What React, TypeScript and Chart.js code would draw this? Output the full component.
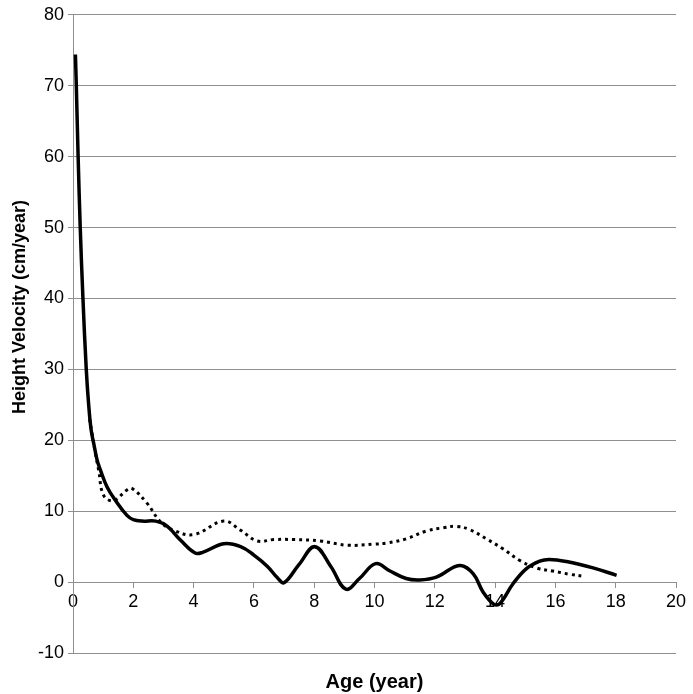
import React, { useEffect, useRef } from "react";
import { Chart, registerables } from "chart.js";

Chart.register(...registerables);

const X_TITLE = "Age (year)";
const Y_TITLE = "Height Velocity (cm/year)";

const X_MIN = 0;
const X_MAX = 20;
const X_STEP = 2;
const Y_MIN = -10;
const Y_MAX = 80;
const Y_STEP = 10;

// Solid curve
const solidAge = [
  0.08, 0.11, 0.17, 0.24, 0.33, 0.44, 0.52, 0.6, 0.69, 0.8, 0.91, 1.13, 1.41, 1.79, 2.0, 2.3, 2.75,
  3.12, 3.57, 4.05, 4.3, 5.0, 5.56, 6.0, 6.45, 6.78, 7.0, 7.5, 8.02, 8.55, 9.05, 9.5, 10.04, 10.5, 11.05,
  11.5, 12.05, 12.82, 13.27, 13.6, 13.95, 14.15, 14.6, 15.04, 15.48, 15.8, 16.37, 17.25, 18.03,
];
const solidVelocity = [
  74.4, 70, 60, 50, 40, 30, 25, 21.5, 19.5, 17.2, 15.8, 13.4, 11.5, 9.4, 8.8, 8.6, 8.6,
  7.9, 5.9, 4.1, 4.2, 5.4, 5.0, 3.8, 2.2, 0.6, -0.1, 2.5, 5.0, 2.2, -1.0, 0.5, 2.6, 1.6, 0.5,
  0.3, 0.7, 2.35, 1.2, -1.4, -3.1, -3.05, -0.2, 1.9, 2.95, 3.2, 2.9, 2.0, 0.95,
];

// Dotted curve
const dottedAge = [
  0.55, 0.63, 0.75, 0.85, 1.02, 1.35, 1.79, 1.96, 2.46, 2.9, 3.34, 4.01, 5.0, 5.56, 6.11, 6.67,
  7.33, 8.2, 9.1, 10.0, 10.39, 11.05, 11.72, 12.27, 12.71, 13.16, 13.71, 14.26, 14.82, 15.37,
  15.92, 16.48, 16.98,
];
const dottedVelocity = [
  23, 21, 18, 15.8, 12.2, 11.5, 13.0, 13.2, 11.1, 8.5, 7.3, 6.7, 8.6, 7.3, 5.8, 6.0,
  6.0, 5.8, 5.2, 5.35, 5.5, 6.1, 7.2, 7.65, 7.85, 7.4, 6.1, 4.7, 3.05, 2.0,
  1.55, 1.1, 0.8,
];

const FONT = '"Liberation Sans", Arial, Helvetica, sans-serif';
const GRID = "#8f8f8f";

const toPoints = (xs: number[], ys: number[]) => xs.map((x, i) => ({ x, y: ys[i] }));

const yTitlePlugin = {
  id: "yTitleDraw",
  afterDraw(chart: any) {
    const ctx = chart.ctx;
    ctx.save();
    ctx.translate(20, 307);
    ctx.rotate(-Math.PI / 2);
    ctx.font = `bold 18px ${FONT}`;
    ctx.fillStyle = "#000";
    ctx.textAlign = "center";
    ctx.textBaseline = "middle";
    ctx.fillText(Y_TITLE, 0, 0);
    ctx.restore();
  },
};

export default function App() {
  const ref = useRef<HTMLCanvasElement>(null);

  useEffect(() => {
    if (!ref.current) return;
    Chart.defaults.font.family = FONT;
    const chart = new Chart(ref.current, {
      type: "scatter",
      data: {
        datasets: [
          {
            label: "dotted",
            data: toPoints(dottedAge, dottedVelocity),
            showLine: true,
            borderColor: "#000",
            borderWidth: 3,
            borderDash: [3, 4],
            pointRadius: 0,
            tension: 0.4,
            xAxisID: "x",
            yAxisID: "y",
          },
          {
            label: "solid",
            data: toPoints(solidAge, solidVelocity),
            showLine: true,
            borderColor: "#000",
            borderWidth: 3.5,
            pointRadius: 0,
            tension: 0.4,
            xAxisID: "x",
            yAxisID: "y",
          },
        ],
      },
      options: {
        animation: false,
        responsive: false,
        layout: { padding: { top: 14, right: 17, left: 0, bottom: 0 } },
        plugins: { legend: { display: false }, tooltip: { enabled: false } },
        scales: {
          x: {
            type: "linear",
            min: X_MIN,
            max: X_MAX,
            position: { y: 0 } as any,
            ticks: {
              stepSize: X_STEP,
              font: { size: 18 },
              color: "#000",
              padding: 4,
              maxRotation: 0,
              autoSkip: false,
            },
            grid: { display: true, drawOnChartArea: false, drawTicks: true, tickLength: 5, color: GRID },
            border: { display: true, color: GRID, width: 1 },
          },
          x2: {
            type: "linear",
            min: X_MIN,
            max: X_MAX,
            position: "bottom",
            ticks: { display: false },
            grid: { display: false },
            border: { display: false },
            title: {
              display: true,
              text: X_TITLE,
              font: { size: 20, weight: "bold" },
              color: "#000",
              padding: 0,
            },
            afterFit(s: any) {
              s.height = 41;
            },
          },
          y: {
            type: "linear",
            min: Y_MIN,
            max: Y_MAX,
            ticks: { stepSize: Y_STEP, font: { size: 18 }, color: "#000", padding: 4 },
            grid: { color: GRID, tickLength: 5, drawTicks: true },
            border: { display: true, color: GRID, width: 1 },
            afterFit(s: any) {
              s.width = 73;
            },
          },
        },
      },
      plugins: [yTitlePlugin],
    });
    return () => chart.destroy();
  }, []);

  return (
    <div style={{ position: "absolute", left: 0, top: 0, width: 693, height: 694, background: "#fff" }}>
      <canvas ref={ref} width={693} height={694} style={{ width: 693, height: 694 }} />
    </div>
  );
}
